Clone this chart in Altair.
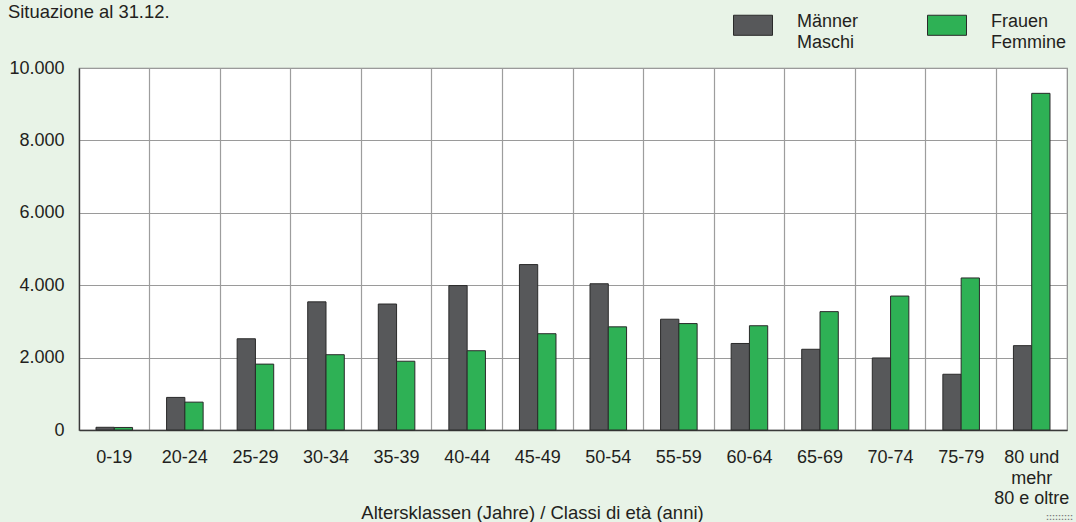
import altair as alt
import pandas as pd

# Age classes (x axis), one row per class
age_classes = ["0-19", "20-24", "25-29", "30-34", "35-39", "40-44", "45-49",
               "50-54", "55-59", "60-64", "65-69", "70-74", "75-79",
               "80 und\nmehr\n80 e oltre"]

men = [75, 900, 2520, 3540, 3480, 3990, 4570, 4040, 3060, 2390, 2230, 1990, 1540, 2330]
women = [70, 770, 1820, 2080, 1900, 2190, 2660, 2850, 2940, 2880, 3270, 3700, 4200, 9300]

series = ["Männer\nMaschi", "Frauen\nFemmine"]
series_colors = ["#57585a", "#2eb155"]

y_ticks = [0, 2000, 4000, 6000, 8000, 10000]

subtitle = "Situazione al 31.12."
x_title = "Altersklassen (Jahre) / Classi di età (anni)"
corner_mark = ":::::::::"

rows = []
for i, age in enumerate(age_classes):
    rows.append({"Alter": age, "Geschlecht": series[0], "Wert": men[i]})
    rows.append({"Alter": age, "Geschlecht": series[1], "Wert": women[i]})
df = pd.DataFrame(rows)

FONT = "Liberation Sans"
TXT = "#231f20"

bars = alt.Chart(df).mark_bar(stroke="#2a2a2a", strokeWidth=1).encode(
    x=alt.X(
        "Alter:N",
        sort=age_classes,
        scale=alt.Scale(paddingInner=0, paddingOuter=0),
        axis=alt.Axis(
            title=x_title,
            titleX=453, titleY=82, titleAlign="center", titleBaseline="middle",
            titleFontSize=18.5, titleFontWeight="normal", titleColor=TXT, titleFont=FONT,
            labelAngle=0, labelFontSize=18, labelColor=TXT, labelFont=FONT,
            labelBaseline="top", labelPadding=18.5, labelExpr="split(datum.label, '\\n')",
            ticks=False, tickSize=0, grid=True, bandPosition=0,
            gridColor="#9d9d9d", gridWidth=1.2,
            domainColor="#3a3a3a", domainWidth=1.3,
        ),
    ),
    xOffset=alt.XOffset("Geschlecht:N", sort=series,
                        scale=alt.Scale(paddingInner=0, paddingOuter=0.93)),
    y=alt.Y(
        "Wert:Q",
        scale=alt.Scale(domain=[0, 10000], nice=False),
        axis=alt.Axis(
            title=None, values=y_ticks,
            labelExpr="replace(format(datum.value, ','), ',', '.')",
            labelFontSize=18, labelColor=TXT, labelFont=FONT, labelPadding=15,
            ticks=False, tickSize=0, grid=True, gridColor="#9a9a9a", gridWidth=1.2,
            domainColor="#3a3a3a", domainWidth=1.3,
        ),
    ),
    color=alt.Color(
        "Geschlecht:N",
        sort=series,
        scale=alt.Scale(domain=series, range=series_colors),
        legend=alt.Legend(
            title=None, orient="none", legendX=654, legendY=-61,
            direction="horizontal", columns=2, columnPadding=66,
            symbolType="M-1,-0.616H1V0.414H-1Z", symbolSize=1521,
            symbolStrokeColor="#2a2a2a", symbolStrokeWidth=1, symbolOpacity=1,
            labelExpr="split(datum.label, '\\n')",
            labelFontSize=18, labelColor=TXT, labelFont=FONT,
            labelBaseline="alphabetic", labelOffset=24, labelLimit=200,
            padding=0,
        ),
    ),
)

head = alt.Chart(pd.DataFrame({"t": [subtitle]})).mark_text(
    align="left", baseline="alphabetic", fontSize=18.4, font=FONT, color=TXT
).encode(text="t:N", x=alt.value(-71), y=alt.value(-50.5))

corner = alt.Chart(pd.DataFrame({"t": [corner_mark]})).mark_text(
    align="left", baseline="bottom", fontSize=9, font=FONT, color="#7a7a7a",
    fontWeight="bold"
).encode(text="t:N", x=alt.value(967), y=alt.value(454))

chart = alt.layer(bars, head, corner).properties(
    width=988, height=362,
    background="#e8f3e7",
    padding={"left": 79, "top": 68, "right": 9, "bottom": 92},
    autosize=alt.AutoSizeParams(type="none"),
).configure(
    style={"guide-label": {"lineHeight": 20.5}}
).configure_view(
    fill="white", stroke="#8a8a8a", strokeWidth=1.2
)

chart.save("out.html", embed_options={"renderer": "svg", "actions": False})
